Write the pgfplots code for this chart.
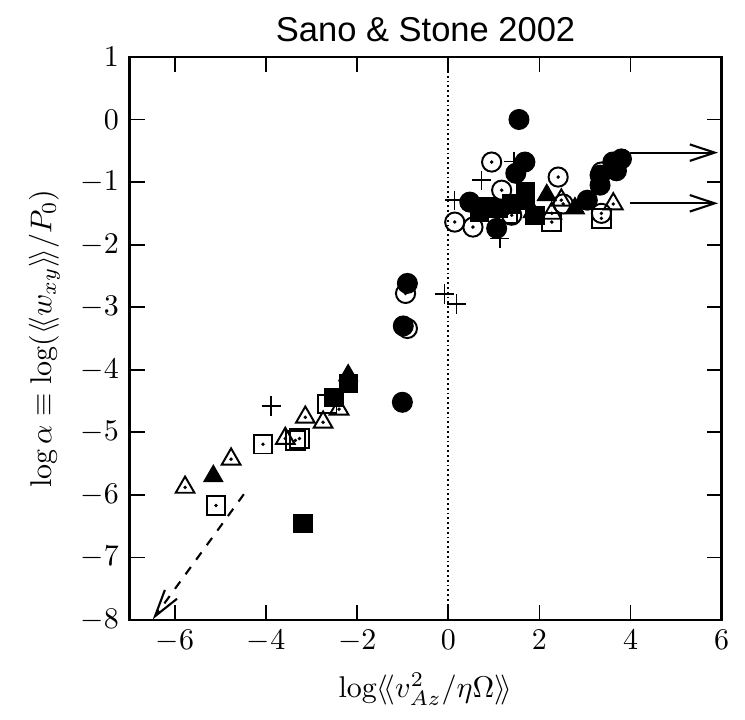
\documentclass[border=0pt]{standalone}
\usepackage{fontspec}
\usepackage{pgfplots}
\pgfplotsset{compat=1.18}
\usetikzlibrary{arrows.meta}
\newfontfamily\titlefont{Liberation Sans}
\begin{document}
\begin{tikzpicture}
\useasboundingbox (-43.17pt,-33.33pt) rectangle (205.17pt,206.67pt);
\begin{axis}[
  scale only axis, width=197.4pt, height=187.7pt,
  xmin=-7, xmax=6, ymin=-8, ymax=1,
  xtick={-6,-4,...,6}, ytick={-8,-7,...,1},
  tick align=inside, major tick length=5pt,
  axis line style={line width=0.8pt},
  every tick/.style={line width=0.6pt, black},
  xlabel={$\log\langle\!\langle v_{Az}^2/\eta\Omega\rangle\!\rangle$},
  ylabel={$\log\alpha\equiv\log(\langle\!\langle w_{xy}\rangle\!\rangle/P_0)$},
  clip=false,
]
\node[anchor=base, font=\titlefont\fontsize{11.5}{13}\selectfont] at (rel axis cs:0.5,1) [yshift=5.3pt] {Sano \& Stone 2002};
% reference lines
\addplot[densely dotted, line width=0.6pt] coordinates {(0,-8) (0,1)};
\addplot[dashed, line width=0.7pt, -{Straight Barb[length=9pt,width=5pt]}] coordinates {(-4.49,-5.99) (-6.49,-7.99)};
\addplot[line width=0.7pt, -{Straight Barb[length=8.3pt,width=5.5pt]}] coordinates {(3.98,-0.53) (5.92,-0.53)};
\addplot[line width=0.7pt, -{Straight Barb[length=8.3pt,width=5.5pt]}] coordinates {(3.98,-1.34) (5.92,-1.34)};
% open circles
\addplot[only marks, mark=o, mark size=3.2pt, mark options={line width=0.65pt, fill=white}] coordinates {
(-0.94,-2.78) (-0.90,-3.34) (0.95,-0.68) (2.41,-0.92) (1.17,-1.13) (3.36,-0.84)
(0.14,-1.64) (0.54,-1.72) (1.39,-1.53) (2.52,-1.35) (3.36,-1.50)};
\addplot[only marks, mark=*, mark size=0.35pt] coordinates {
(-0.94,-2.78) (-0.90,-3.34) (0.95,-0.68) (2.41,-0.92) (1.17,-1.13) (3.36,-0.84)
(0.14,-1.64) (0.54,-1.72) (1.39,-1.53) (2.52,-1.35) (3.36,-1.50)};
% open squares
\addplot[only marks, mark=square, mark size=3.1pt, mark options={line width=0.65pt, fill=white}] coordinates {
(-2.66,-4.55) (-3.27,-5.10) (-3.36,-5.13) (-4.07,-5.19) (-5.10,-6.17)
(1.31,-1.50) (2.27,-1.64) (3.36,-1.58)};
\addplot[only marks, mark=*, mark size=0.35pt] coordinates {
(-2.66,-4.55) (-3.27,-5.10) (-3.36,-5.13) (-4.07,-5.19) (-5.10,-6.17)
(1.31,-1.50) (2.27,-1.64) (3.36,-1.58)};
% open triangles
\addplot[only marks, mark=triangle, mark size=3.6pt, mark options={line width=0.65pt, fill=white}] coordinates {
(-2.40,-4.63) (-3.14,-4.76) (-2.75,-4.84) (-3.58,-5.10) (-4.77,-5.43) (-5.78,-5.88)
(2.48,-1.29) (2.27,-1.50) (3.62,-1.35)};
\addplot[only marks, mark=*, mark size=0.35pt] coordinates {
(-2.40,-4.63) (-3.14,-4.76) (-2.75,-4.84) (-3.58,-5.10) (-4.77,-5.43) (-5.78,-5.88)
(2.48,-1.29) (2.27,-1.50) (3.62,-1.35)};
% filled squares
\addplot[only marks, mark=square*, mark size=3.0pt, mark options={fill=black}] coordinates {
(-2.20,-4.22) (-2.51,-4.44) (-3.19,-6.46) (0.69,-1.48) (0.84,-1.40) (1.09,-1.42)
(1.39,-1.35) (1.70,-1.16) (1.70,-1.29) (1.90,-1.53)};
% filled triangles
\addplot[only marks, mark=triangle*, mark size=3.6pt, mark options={fill=black}] coordinates {
(-2.20,-4.09) (-5.16,-5.70) (2.16,-1.21) (2.78,-1.42) (1.85,-1.48)};
% filled circles
\addplot[only marks, mark=*, mark size=3.3pt, mark options={fill=black}] coordinates {
(-0.90,-2.62) (-0.99,-3.30) (-1.01,-4.52) (1.55,0.00) (1.68,-0.68) (1.48,-0.86)
(0.47,-1.32) (1.06,-1.74) (3.05,-1.29) (3.33,-1.05) (3.33,-0.89) (3.61,-0.68)
(3.80,-0.63) (3.69,-0.82)};
% plus
\addplot[only marks, mark=+, mark size=3.2pt, mark options={line width=0.5pt}] coordinates {
(-3.89,-4.58) (-0.09,-2.79) (0.18,-2.95) (1.44,-0.67) (0.73,-0.97) (0.14,-1.29) (1.13,-1.90)};
\end{axis}
\end{tikzpicture}
\end{document}
